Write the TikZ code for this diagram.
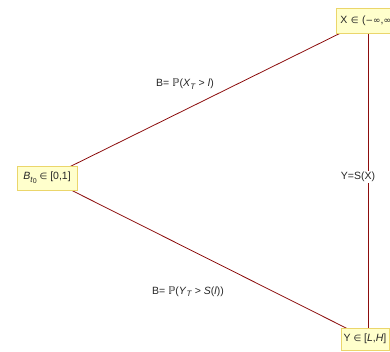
\documentclass[tikz,border=0pt]{standalone}
\usepackage{fontspec}
\setmainfont{Liberation Sans}
\newfontfamily\symf[Scale=0.85]{DejaVu Sans}
\newfontfamily\symb{DejaVu Sans}
\definecolor{edgecol}{rgb}{0.55,0.05,0.05}
\definecolor{vfill}{rgb}{1,1,0.8}
\definecolor{vdraw}{rgb}{0.92,0.84,0.42}
\definecolor{txt}{rgb}{0.15,0.15,0.15}
\newcommand{\sy}[1]{{\symf #1}}
\newcommand{\bbP}{{\symb ℙ}}
\newcommand{\sbs}[1]{\raisebox{-0.45ex}{\fontsize{8}{9}\selectfont #1}}
\newcommand{\ssbs}[1]{\raisebox{-0.4ex}{\fontsize{7}{8}\selectfont #1}}
\begin{document}
\begin{tikzpicture}[x=1pt,y=-1pt,
  vbox/.style={draw=vdraw,fill=vfill,line width=0.8pt,inner sep=0pt,text=txt,
    font=\fontsize{10.5}{12}\selectfont},
  elab/.style={text=txt,font=\fontsize{10.5}{12}\selectfont,inner sep=1pt},
  edge/.style={draw=edgecol,line width=0.8pt}]
\useasboundingbox (0,0) rectangle (390,352);
\clip (0,0) rectangle (390,352);
\coordinate (vB) at (47,178);
\coordinate (vX) at (368,19.5);
\coordinate (vY) at (368,339);
\draw[edge] (vB) -- (vX);
\draw[edge] (vB) -- (vY);
\draw[edge] (vX) -- (vY);
\node[vbox,minimum width=60pt,minimum height=24pt] (B) at (47,178) {\textit{B}\sbs{\textit{t}\ssbs{0}} \sy{∈} [0,1]};
\node[vbox,anchor=west,minimum height=25pt,minimum width=66pt,text width=60pt,align=left] (X) at (336,20.5) {\hspace*{1pt}X \sy{∈} (\sy{−∞},\sy{∞})};
\node[vbox,minimum width=48pt,minimum height=22pt] (Y) at (365,339) {Y \sy{∈} [\textit{L},\textit{H}]};
\node[elab] (lX) at (185,84) {B= \bbP(\textit{X}\sbs{\textit{T}} > \textit{l})};
\node[elab] (lY) at (188,291.5) {B= \bbP(\textit{Y}\sbs{\textit{T}} > \textit{S}(\textit{l}))};
\node[elab,fill=white] (lS) at (358,177) {Y=S(X)};
\end{tikzpicture}
\end{document}
